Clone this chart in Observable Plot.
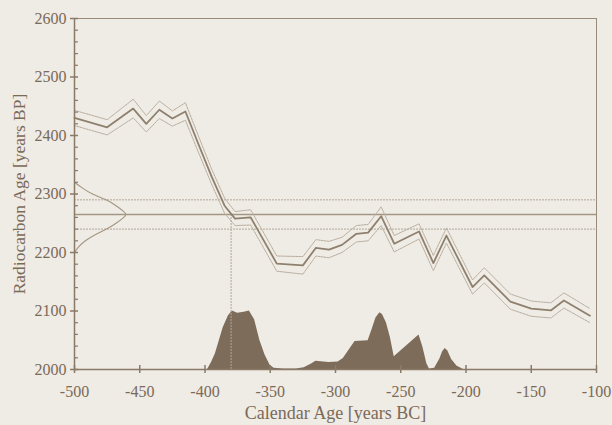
<!DOCTYPE html>
<html><head><meta charset="utf-8">
<script src="https://cdn.jsdelivr.net/npm/d3@7"></script>
<script src="https://cdn.jsdelivr.net/npm/@observablehq/plot@0.6"></script>
<style>
html,body{margin:0;padding:0;background:#efebe5;}
#chart svg{display:block;}
</style>
</head><body><div id="chart"></div>
<script>
// Calibration curve (calendar year BC as negative, radiocarbon age BP)
const calYears = [-500,-475,-455,-445,-435,-425,-415,-405,-395,-385,-377,-365,-345,-325,-315,-305,-295,-284,-275,-265,-255,-236,-225,-215,-195,-186,-166,-150,-135,-125,-105];
const c14Age   = [2430,2414,2446,2420,2444,2429,2441,2385,2330,2280,2258,2260,2181,2178,2208,2205,2213,2232,2234,2262,2215,2236,2182,2229,2141,2161,2116,2104,2101,2118,2092];
const c14Err   = [13,13,16,14,15,13,15,14,13,13,12,13,13,15,14,14,13,14,14,16,14,13,13,13,12,13,13,13,13,13,12];

// Measured radiocarbon date
const measAge = 2265;
const measErr = 25;
const calPoint = -380;

// Gaussian of the measurement drawn on the left axis (offset in years from -500)
const gaussAge    = [2320,2310,2300,2290,2280,2270,2265,2260,2250,2240,2230,2220,2210,2200];
const gaussOffset = [0,6,13,25,32,38,40,38,32,25,15,8,3,0];

// Calibrated probability distribution (heights in radiocarbon-axis years above baseline)
const probYears  = [-398,-395,-392,-386,-382,-379,-375,-370,-366,-362,-358,-354,-350,-347,-340,-330,-324,-318,-315,-305,-298,-294,-289,-285,-275,-272,-269,-266,-264,-261,-258,-255,-236,-233,-230,-228,-224,-220,-218,-216,-214,-211,-207,-202];
const probHeight = [0,12,27,72,92,100,96,98,100,85,50,25,7,2,1,1,3,10,14,12,13,19,35,48,49,68,88,97,94,80,55,22,59,38,10,1,2,18,30,36,32,17,6,0];

const xTicks = [-500,-450,-400,-350,-300,-250,-200,-150,-100];
const yTicks = [2000,2100,2200,2300,2400,2500,2600];
const yMinor = [2020,2040,2060,2080,2120,2140,2160,2180,2220,2240,2260,2280,2320,2340,2360,2380,2420,2440,2460,2480,2520,2540,2560,2580];

const xTitle = "Calendar Age [years BC]";
const yTitle = "Radiocarbon Age [years BP]";

const curve = calYears.map((x,i)=>({x, y:c14Age[i], lo:c14Age[i]-c14Err[i], hi:c14Age[i]+c14Err[i]}));
const gauss = gaussAge.map((y,i)=>({y, x:-500+gaussOffset[i]}));
const prob  = probYears.map((x,i)=>({x, h:probHeight[i]}));

const ink = "#7d6c5a";
const axisInk = "#8a7a68";
const textInk = "#7a6a58";
const fmt = d => String(d).replace("\u2212","-");

const chart = Plot.plot({
  width: 612,
  height: 425,
  marginTop: 18,
  marginRight: 16,
  marginBottom: 56,
  marginLeft: 74,
  style: {background:"transparent", fontFamily:"'Liberation Serif', 'DejaVu Serif', serif", color:textInk, fontSize:"16px"},
  x: {domain:[-500,-100]},
  y: {domain:[2000,2600]},
  marks: [
    Plot.areaY(prob, {x:"x", y1:2000, y2:d=>2000+d.h, fill:ink}),
    Plot.ruleY([measAge+measErr, measAge-measErr], {stroke:"#b3a797", strokeWidth:1, strokeDasharray:"2,1"}),
    Plot.ruleY([measAge], {stroke:"#a39684", strokeWidth:1.3}),
    Plot.ruleX([calPoint], {y1:2000, y2:measAge, stroke:"#b3a797", strokeWidth:1, strokeDasharray:"2,1"}),
    Plot.line(gauss, {x:"x", y:"y", stroke:"#a39684", strokeWidth:1.1, curve:"basis"}),
    Plot.line(curve, {x:"x", y:"hi", stroke:"#b8ad9e", strokeWidth:1, strokeDasharray:"2,1"}),
    Plot.line(curve, {x:"x", y:"lo", stroke:"#b8ad9e", strokeWidth:1, strokeDasharray:"2,1"}),
    Plot.line(curve, {x:"x", y:"y", stroke:"#8f806e", strokeWidth:1.8}),
    Plot.frame({stroke:"#9a8c7a", strokeWidth:1}),
    Plot.ruleY([2000], {stroke:axisInk, strokeWidth:1.5}),
    Plot.ruleX([-500], {stroke:axisInk, strokeWidth:1.5}),
    Plot.axisY(yTicks, {anchor:"left", tickSize:4, tickPadding:4, stroke:axisInk, strokeWidth:1.5, fill:textInk, fontSize:16, tickFormat:fmt, label:null}),
    Plot.axisY(yTicks, {anchor:"left", tickSize:-4, text:null, label:null, stroke:axisInk, strokeWidth:1.5}),
    Plot.axisY(yMinor, {anchor:"left", tickSize:-4, text:null, label:null, stroke:axisInk, strokeWidth:1.2}),
    Plot.axisX(xTicks, {anchor:"bottom", tickSize:4, tickPadding:12, stroke:axisInk, strokeWidth:1.5, fill:textInk, fontSize:16, tickFormat:fmt, label:null}),
    Plot.axisX(xTicks, {anchor:"bottom", tickSize:-4, text:null, label:null, stroke:axisInk, strokeWidth:1.5}),
    Plot.text([xTitle], {frameAnchor:"bottom", lineAnchor:"middle", textAnchor:"middle", dy:44, fontSize:18, fill:textInk}),
    Plot.text([yTitle], {frameAnchor:"left", lineAnchor:"middle", textAnchor:"middle", dx:-55, rotate:-90, fontSize:17.5, fill:textInk})
  ]
});
document.getElementById("chart").appendChild(chart);
</script>
</body></html>
